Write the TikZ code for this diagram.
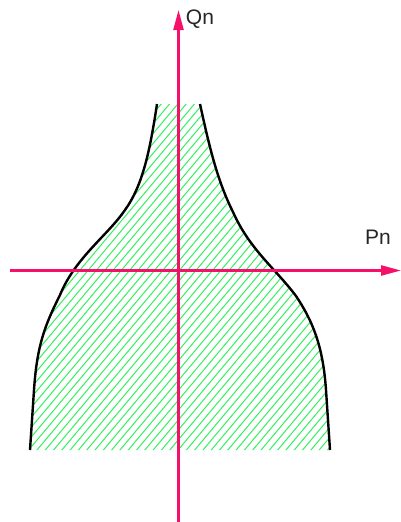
\documentclass[tikz,border=0pt]{standalone}
\usepackage{fontspec}
\setmainfont{Liberation Sans}
\usetikzlibrary{arrows.meta}
\definecolor{axispink}{HTML}{F5106A}
\definecolor{hatchgreen}{HTML}{33F060}
\tikzset{
  axisline/.style={draw=axispink, line width=2.4pt, -{Triangle[length=20pt,width=10pt]}},
  boundary/.style={draw=black, line width=2.4pt},
  hatchline/.style={draw=hatchgreen, line width=1pt},
  axislabel/.style={font=\fontsize{21}{21}\selectfont, text=black!85}
}
\begin{document}
\begin{tikzpicture}[x=1pt,y=-1pt]
\useasboundingbox (0,0) rectangle (401,522);
\def\region{(157,104) .. controls (150,150) and (143,185) .. (125,210)
  .. controls (108,235) and (75,258) .. (60,295)
  .. controls (45,325) and (37,345) .. (34,390)
  -- (30,450) -- (330,450) -- (326,390)
  .. controls (323,345) and (312,320) .. (296,296)
  .. controls (275,268) and (250,250) .. (233,212)
  .. controls (218,182) and (210,150) .. (200,104) -- cycle}
\begin{scope}
  \clip \region;
  \foreach \c in {-320,-311.7,...,360} {
    \draw[hatchline] (\c,460) -- ++(302,-360);
  }
\end{scope}
\draw[boundary] (157,104) .. controls (150,150) and (143,185) .. (125,210)
  .. controls (108,235) and (75,258) .. (60,295)
  .. controls (45,325) and (37,345) .. (34,390) -- (30,450);
\draw[boundary] (200,104) .. controls (210,150) and (218,182) .. (233,212)
  .. controls (250,250) and (275,268) .. (296,296)
  .. controls (312,320) and (323,345) .. (326,390) -- (330,450);
\coordinate (xstart) at (10,270.5);
\coordinate (xend) at (401,270.5);
\coordinate (ystart) at (178.5,522);
\coordinate (yend) at (178.5,10);
\draw[axisline] (xstart) -- (xend);
\draw[axisline] (ystart) -- (yend);
\node[axislabel] (qn) at (200,19) {Qn};
\node[axislabel] (pn) at (378,237) {Pn};
\end{tikzpicture}
\end{document}
